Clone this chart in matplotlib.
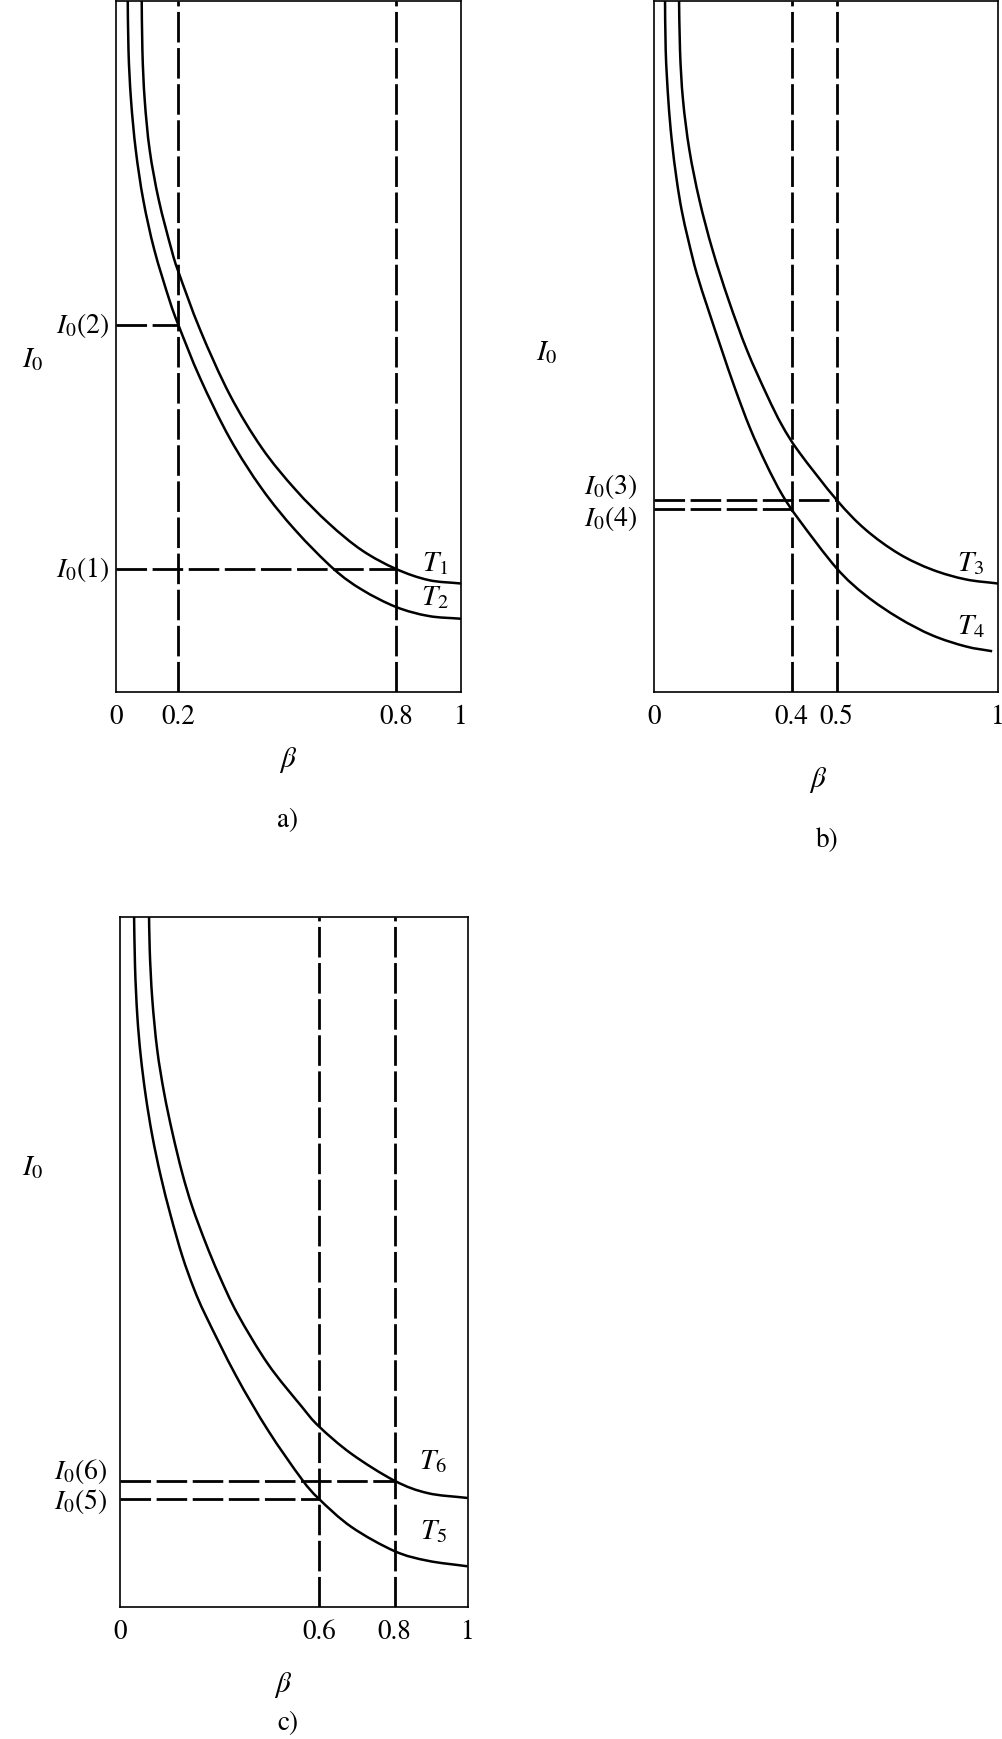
import numpy as np
import matplotlib
matplotlib.use('Agg')
import matplotlib.pyplot as plt
from matplotlib.path import Path
from matplotlib.patches import PathPatch

plt.rcParams['font.family'] = ['STIXGeneral', 'DejaVu Serif']
plt.rcParams['mathtext.fontset'] = 'stix'
plt.rcParams['font.size'] = 19.5

# ---- values (beta on 0..1, I0 on 0..1 of the box height) ----
# panel a
a_T1_beta = [0.0742, 0.0765, 0.0832, 0.0977, 0.124, 0.161, 0.181, 0.244, 0.330,
             0.423, 0.520, 0.617, 0.713, 0.812, 0.906, 1.0]
a_T1_I = [1.02, 0.929, 0.857, 0.784, 0.712, 0.640, 0.608, 0.524, 0.430,
          0.353, 0.293, 0.244, 0.205, 0.178, 0.162, 0.157]
a_T2_beta = [0.0337, 0.0362, 0.0435, 0.0574, 0.0791, 0.111, 0.155, 0.181, 0.244,
             0.330, 0.423, 0.520, 0.631, 0.713, 0.812, 0.906, 1.0]
a_T2_I = [1.02, 0.929, 0.857, 0.784, 0.712, 0.640, 0.567, 0.531, 0.454,
          0.367, 0.294, 0.234, 0.178, 0.148, 0.123, 0.110, 0.106]
a_cuts = [0.181, 0.812]
a_cut_labels = ['0.2', '0.8']

# panel b
b_T3_beta = [0.0724, 0.0756, 0.0843, 0.103, 0.132, 0.170, 0.217, 0.270, 0.328,
             0.372, 0.422, 0.531, 0.615, 0.712, 0.809, 0.906, 1.0]
b_T3_I = [1.02, 0.929, 0.857, 0.784, 0.712, 0.640, 0.567, 0.495, 0.430,
          0.386, 0.347, 0.278, 0.235, 0.200, 0.177, 0.163, 0.157]
b_T4_beta = [0.0318, 0.034, 0.0416, 0.0515, 0.066, 0.0805, 0.0997, 0.124, 0.158, 0.197,
             0.235, 0.279, 0.326, 0.372, 0.422, 0.531, 0.615, 0.712, 0.809, 0.906, 0.983]
b_T4_I = [1.02, 0.929, 0.857, 0.799, 0.741, 0.697, 0.654, 0.606, 0.553, 0.495,
          0.440, 0.382, 0.330, 0.286, 0.249, 0.179, 0.140, 0.107, 0.082, 0.066, 0.059]
b_cuts = [0.400, 0.531]
b_cut_labels = ['0.4', '0.5']

# panel c
c_T6_beta = [0.0832, 0.0855, 0.0929, 0.107, 0.127, 0.151, 0.179, 0.208, 0.247, 0.285,
             0.338, 0.426, 0.522, 0.572, 0.666, 0.790, 0.886, 1.0]
c_T6_I = [1.02, 0.953, 0.881, 0.808, 0.745, 0.687, 0.629, 0.580, 0.527, 0.481,
          0.425, 0.352, 0.291, 0.262, 0.222, 0.183, 0.165, 0.158]
c_T5_beta = [0.040, 0.0432, 0.0498, 0.0596, 0.074, 0.0929, 0.117, 0.146, 0.179, 0.213,
             0.247, 0.334, 0.426, 0.522, 0.572, 0.666, 0.790, 0.886, 1.0]
c_T5_I = [1.02, 0.929, 0.857, 0.799, 0.741, 0.683, 0.625, 0.567, 0.509, 0.461,
          0.422, 0.335, 0.256, 0.186, 0.157, 0.116, 0.081, 0.067, 0.059]
c_cuts = [0.572, 0.790]
c_cut_labels = ['0.6', '0.8']

W, H = 1003, 1739
fig = plt.figure(figsize=(W / 100, H / 100), dpi=100)

def box(left, top, right, bottom):
    # pixel box -> figure fraction
    return [left / W, 1 - bottom / H, (right - left) / W, (bottom - top) / H]

dash = (0, (11, 2))

def smooth_curve(ax, xs, ys):
    # draw a smooth bezier line through the read points (catmull-rom)
    p = np.column_stack([xs, ys])
    p = np.vstack([2 * p[0] - p[1], p, 2 * p[-1] - p[-2]])
    verts = [p[1]]
    codes = [Path.MOVETO]
    for i in range(1, len(p) - 2):
        c1 = p[i] + (p[i + 1] - p[i - 1]) / 6
        c2 = p[i + 1] - (p[i + 2] - p[i]) / 6
        verts += [c1, c2, p[i + 1]]
        codes += [Path.CURVE4] * 3
    ax.add_patch(PathPatch(Path(verts, codes), fill=False, edgecolor='black', lw=1.8))

def panel(rect, upper, lower, cuts, cut_labels, levels, curve_labels):
    ax = fig.add_axes(rect)
    ax.set_xlim(0, 1)
    ax.set_ylim(0, 1)
    for s in ax.spines.values():
        s.set_linewidth(1.2)
    smooth_curve(ax, *upper)
    smooth_curve(ax, *lower)
    for c in cuts:
        ax.axvline(c, color='black', lw=2.0, ls=dash)
    # horizontal read-offs: (curve, cut index, label, dx, dy)
    for curve, k, lab, dx, dy in levels:
        lev = np.interp(cuts[k], curve[0], curve[1])
        ax.plot([0, cuts[k]], [lev, lev], color='black', lw=2.0, ls=dash)
        ax.annotate(lab, xy=(0, lev), xycoords=('axes fraction', 'data'),
                    xytext=(-dx, dy), textcoords='offset points',
                    ha='right', va='center', fontsize=20)
    for lab, x, y in curve_labels:
        ax.text(x, y, lab, ha='center', va='center', fontsize=21)
    ax.set_xticks([0] + cuts + [1])
    ax.set_xticklabels(['0'] + cut_labels + ['1'])
    ax.set_yticks([])
    ax.tick_params(axis='x', length=0, pad=9)
    return ax

a_T1 = (a_T1_beta, a_T1_I)
a_T2 = (a_T2_beta, a_T2_I)
panel(box(116, 1, 461, 692), a_T1, a_T2, a_cuts, a_cut_labels,
      [(a_T2, 0, r'$I_0(2)$', 5, 0), (a_T1, 1, r'$I_0(1)$', 5, 0)],
      [(r'$T_1$', 0.925, 0.186), (r'$T_2$', 0.925, 0.136)])

b_T3 = (b_T3_beta, b_T3_I)
b_T4 = (b_T4_beta, b_T4_I)
panel(box(654, 1, 998, 692), b_T3, b_T4, b_cuts, b_cut_labels,
      [(b_T3, 1, r'$I_0(3)$', 12, 9.5), (b_T4, 0, r'$I_0(4)$', 12, -7)],
      [(r'$T_3$', 0.921, 0.186), (r'$T_4$', 0.921, 0.095)])

c_T6 = (c_T6_beta, c_T6_I)
c_T5 = (c_T5_beta, c_T5_I)
panel(box(120, 917, 467.5, 1607), c_T6, c_T5, c_cuts, c_cut_labels,
      [(c_T6, 1, r'$I_0(6)$', 9, 7), (c_T5, 0, r'$I_0(5)$', 9, -2)],
      [(r'$T_6$', 0.901, 0.211), (r'$T_5$', 0.901, 0.109)])

# axis names and panel letters
def put(x, y, s, size=19.5):
    fig.text(x / W, 1 - y / H, s, ha='center', va='center', fontsize=size)

put(33, 360, r'$I_0$', 21)
put(547, 353, r'$I_0$', 21)
put(33, 1168, r'$I_0$', 21)
put(288, 760, r'$\beta$', 21)
put(818, 780, r'$\beta$', 21)
put(283, 1685, r'$\beta$', 21)
put(288, 820, 'a)')
put(827, 840, 'b)')
put(288, 1723, 'c)')

fig.savefig('out.png', dpi=100)
